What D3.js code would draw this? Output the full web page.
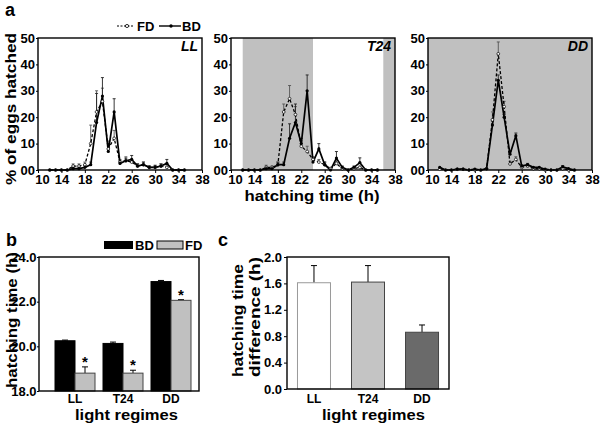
<!DOCTYPE html>
<html><head><meta charset="utf-8">
<script src="https://cdn.jsdelivr.net/npm/d3@7"></script>
<style>
body{margin:0;background:#fff}
svg{display:block}
text{font-family:"Liberation Sans",Arial,Helvetica,sans-serif;font-weight:bold;fill:#000}
</style>
</head><body>
<svg id="fig" width="600" height="425"></svg>
<script>
// ---------- Panel a data ----------
const hours = [12,13,14,15,16,17,18,19,20,21,22,23,24,25,26,27,28,29,30,31,32,33,34,35];
const LL_FD     = [0,0,0,0,1.5,1.5,2,10,22,26,8,12,3,3.5,3,1.5,2,1,1,1.5,1,0,0,0];
const LL_FD_err = [0,0,0,0,0.8,0.8,1,7,8,5,3,3,1,1.5,1,0.8,1,0.5,0.5,0.8,0.5,0,0,0];
const LL_BD     = [0,0,0,0,0.5,0.5,1,2,18,28,7,22,2.5,3.5,4,1.5,2,1,1,1.5,2.5,0,0,0];
const LL_BD_err = [0,0,0,0,0.5,0.5,0.8,1,11,7,3,5,1,1,1.5,0.8,1,0.5,0.8,0.8,1.5,0,0,0];
const T24_FD     = [0,0,0,0,1,1,2,22,27,21,9,7,4,3,2,0.5,2.5,0.5,0,0.5,1,0,0,0];
const T24_FD_err = [0,0,0,0,0.8,0.5,1,3,5,3,2,2,1,1,1,0.5,1,0.5,0,0.5,0.5,0,0,0];
const T24_BD     = [0,0,0,0,0.5,0.5,2,2,12,18,10,30,3,8,2,0,4.5,1,0,1,2.8,0,0,0];
const T24_BD_err = [0,0,0,0,0.5,0.5,1,1,5.5,7,2,6,1,2,1,0,2.5,0.5,0,0.5,1.8,0,0,0];
const DD_FD     = [0.3,0,0,0.3,0.3,0,0,0,0.5,19,44,24,2.3,4,1,1.5,0.5,0.5,0,0,0,0.5,0,0];
const DD_FD_err = [0,0,0,0,0,0,0,0,0.3,3,4.5,2,1,1,0.5,0.5,0.3,0.3,0,0,0,0.3,0,0];
const DD_BD     = [1,0,0,0.3,0.3,0,0.3,0,0.5,17,34,20,6,13,1.5,2,1,1,0.3,0,0,1.2,0.5,0];
const DD_BD_err = [0.3,0,0,0,0,0,0,0,0.3,1.5,2,1,1,1,0.5,0.5,0.3,0.3,0,0,0,0.5,0,0];
const LL_dark  = [];
const T24_dark = [[12,24],[36,38]];
const DD_dark  = [[10,38]];
const xTicksA = [10,14,18,22,26,30,34,38];
const yTicksA = [0,10,20,30,40,50];

// ---------- Panel b data ----------
const regimes = ["LL","T24","DD"];
const BD_time     = [20.25,20.13,22.9];
const BD_time_err = [0.03,0.06,0.05];
const FD_time     = [18.8,18.8,22.06];
const FD_time_err = [0.28,0.13,0.03];
const yTicksB = [18,20,22,24];

// ---------- Panel c data ----------
const diffTime     = [1.61,1.62,0.86];
const diffTime_err = [0.26,0.25,0.11];
const diffColors   = ["#ffffff","#c4c4c4","#6a6a6a"];
const yTicksC = [0,0.4,0.8,1.2,1.6,2.0];

const svg = d3.select("#fig");
const GRAY = "#c0c0c0";

function label(x, y, txt, size, len, rot, anchor) {
  const t = svg.append("text")
    .attr("transform", `translate(${x},${y})` + (rot ? " rotate(-90)" : ""))
    .attr("text-anchor", anchor || "middle")
    .style("font-size", size + "px").text(txt);
  if (len) t.attr("textLength", len).attr("lengthAdjust", "spacingAndGlyphs");
  return t;
}

// ================= Panel a =================
const panelsA = [
  {name:"LL",  fd:LL_FD,  fdE:LL_FD_err,  bd:LL_BD,  bdE:LL_BD_err,  dark:LL_dark,  left:38},
  {name:"T24", fd:T24_FD, fdE:T24_FD_err, bd:T24_BD, bdE:T24_BD_err, dark:T24_dark, left:231},
  {name:"DD",  fd:DD_FD,  fdE:DD_FD_err,  bd:DD_BD,  bdE:DD_BD_err,  dark:DD_dark,  left:428}
];
const aTop = 38, aBottom = 170, aW = 164;
const yA = d3.scaleLinear().domain([0,50]).range([aBottom,aTop]);

panelsA.forEach(p => {
  const x = d3.scaleLinear().domain([10,38]).range([p.left, p.left+aW]);
  const g = svg.append("g");
  g.selectAll("rect.dark").data(p.dark).enter().append("rect")
    .attr("x", d => x(d[0])).attr("y", aTop)
    .attr("width", d => x(d[1]) - x(d[0])).attr("height", aBottom - aTop)
    .attr("fill", GRAY);
  const ax = g.append("g").attr("transform", `translate(0,${aBottom})`)
    .call(d3.axisBottom(x).tickValues(xTicksA).tickSize(3).tickPadding(1));
  const ay = g.append("g").attr("transform", `translate(${p.left},0)`)
    .call(d3.axisLeft(yA).tickValues(yTicksA).tickSize(2).tickPadding(1)
      .tickFormat(d => d === 0 ? "00" : d));
  [ax, ay].forEach(a => {
    a.select(".domain").remove();
    a.selectAll("text").style("font-size","13px").style("font-weight","bold");
    a.selectAll("line").attr("stroke","#000");
  });
  ax.selectAll("text").attr("dy","0.75em").attr("dx", d => d === 10 ? 4 : 0);
  g.append("rect").attr("x", p.left).attr("y", aTop).attr("width", aW).attr("height", aBottom - aTop)
    .attr("fill","none").attr("stroke","#000").attr("stroke-width",1.4);
  const fdPts = hours.map((h,i) => ({h, v:p.fd[i], e:p.fdE[i]}));
  const bdPts = hours.map((h,i) => ({h, v:p.bd[i], e:p.bdE[i]}));
  const line = d3.line().x(d => x(d.h)).y(d => yA(d.v));
  const errs = (pts, col) => {
    const eg = g.append("g").attr("stroke", col).attr("stroke-width", 0.9);
    pts.filter(d => d.e > 0.4).forEach(d => {
      eg.append("line").attr("x1", x(d.h)).attr("x2", x(d.h)).attr("y1", yA(d.v)).attr("y2", yA(d.v + d.e));
      eg.append("line").attr("x1", x(d.h)-1.5).attr("x2", x(d.h)+1.5).attr("y1", yA(d.v + d.e)).attr("y2", yA(d.v + d.e));
    });
  };
  errs(fdPts, "#555");
  errs(bdPts, "#222");
  g.append("path").datum(fdPts).attr("d", line).attr("fill","none")
    .attr("stroke","#000").attr("stroke-width",1.3).attr("stroke-dasharray","3,2");
  g.append("path").datum(bdPts).attr("d", line).attr("fill","none")
    .attr("stroke","#000").attr("stroke-width",1.7);
  g.selectAll("circle.fd").data(fdPts).enter().append("circle")
    .attr("cx", d => x(d.h)).attr("cy", d => yA(d.v)).attr("r", 1.4)
    .attr("fill","#fff").attr("stroke","#000").attr("stroke-width",0.7);
  g.selectAll("circle.bd").data(bdPts).enter().append("circle")
    .attr("cx", d => x(d.h)).attr("cy", d => yA(d.v)).attr("r", 1.6).attr("fill","#000");
  g.append("text").attr("x", p.left + aW - 4).attr("y", aTop + 13).attr("text-anchor","end")
    .style("font-size","14px").style("font-style","italic").text(p.name);
});

label(5, 16, "a", 18, null, false, "start");
label(16, 109, "% of eggs hatched", 15.5, 152, true);
label(312, 201, "hatching time (h)", 15.5, 135, false);
// legend a
const lg = svg.append("g");
lg.append("line").attr("x1",117).attr("x2",134).attr("y1",26).attr("y2",26)
  .attr("stroke","#000").attr("stroke-width",1.2).attr("stroke-dasharray","2,1.5");
lg.append("circle").attr("cx",127).attr("cy",26).attr("r",1.6).attr("fill","#fff").attr("stroke","#000").attr("stroke-width",0.8);
lg.append("text").attr("x",137).attr("y",30.5).style("font-size","13px").text("FD");
lg.append("line").attr("x1",159).attr("x2",181).attr("y1",26).attr("y2",26)
  .attr("stroke","#000").attr("stroke-width",1.4);
lg.append("circle").attr("cx",171).attr("cy",26).attr("r",1.7).attr("fill","#000");
lg.append("text").attr("x",182).attr("y",30.5).style("font-size","13px").text("BD");

// ================= Panel b =================
const bL = 39, bR = 199, bT = 257, bB = 391;
const xB = d3.scaleBand().domain(regimes).range([bL,bR]).paddingInner(1/6).paddingOuter(0.25).align(2/3);
const xB2 = d3.scaleBand().domain(["BD","FD"]).range([0, xB.bandwidth()]);
const yB = d3.scaleLinear().domain([18,24]).range([bB,bT]);
const gb = svg.append("g");
const bData = regimes.map((r,i) => ({r,
  items:[{s:"BD", v:BD_time[i], e:BD_time_err[i]}, {s:"FD", v:FD_time[i], e:FD_time_err[i]}]}));
bData.forEach(d => {
  d.items.forEach(it => {
    const x0 = xB(d.r) + xB2(it.s), w = xB2.bandwidth();
    gb.append("line").attr("x1", x0 + w/2).attr("x2", x0 + w/2).attr("y1", yB(it.v)).attr("y2", yB(it.v + it.e))
      .attr("stroke","#000").attr("stroke-width",1);
    gb.append("line").attr("x1", x0 + w/2 - 3).attr("x2", x0 + w/2 + 3).attr("y1", yB(it.v + it.e)).attr("y2", yB(it.v + it.e))
      .attr("stroke","#000").attr("stroke-width",1);
    gb.append("rect").attr("x", x0).attr("y", yB(it.v)).attr("width", w).attr("height", yB(18) - yB(it.v))
      .attr("fill", it.s === "BD" ? "#000" : GRAY).attr("stroke", it.s === "BD" ? "#000" : "#444").attr("stroke-width",1);
    if (it.s === "FD") {
      gb.append("text").attr("x", x0 + w/2).attr("y", yB(it.v + it.e)).attr("text-anchor","middle")
        .style("font-size","15px").text("*");
    }
  });
});
const axB = gb.append("g").attr("transform",`translate(${bL},0)`)
  .call(d3.axisLeft(yB).tickValues(yTicksB).tickSize(2).tickPadding(0.5));
const axBx = gb.append("g").attr("transform",`translate(0,${bB})`)
  .call(d3.axisBottom(xB).tickSize(0).tickPadding(3.5));
[axB, axBx].forEach(a => { a.select(".domain").remove(); a.selectAll("text").style("font-size","13px"); });
axBx.selectAll("text").style("font-size","12px").attr("dy","0.72em");
gb.append("rect").attr("x",bL).attr("y",bT).attr("width",bR-bL).attr("height",bB-bT)
  .attr("fill","none").attr("stroke","#000").attr("stroke-width",1.4);
label(6, 246, "b", 18, null, false, "start");
label(17, 320, "hatching time (h)", 15.5, 136, true);
label(126.5, 420, "light regimes", 15, 103, false);
// legend b
svg.append("rect").attr("x",104).attr("y",241).attr("width",29).attr("height",8).attr("fill","#000");
svg.append("text").attr("x",135).attr("y",249.5).style("font-size","13px").text("BD");
svg.append("rect").attr("x",157).attr("y",241).attr("width",26).attr("height",8).attr("fill",GRAY)
  .attr("stroke","#000").attr("stroke-width",1);
svg.append("text").attr("x",185).attr("y",249.5).style("font-size","13px").text("FD");

// ================= Panel c =================
const cL = 287, cR = 449, cT = 257, cB = 389;
const xC = d3.scaleBand().domain(regimes).range([cL,cR]).paddingInner(0.389).paddingOuter(0.194);
const yC = d3.scaleLinear().domain([0,2]).range([cB,cT]);
const gc = svg.append("g");
regimes.forEach((r,i) => {
  const x0 = xC(r), w = xC.bandwidth();
  gc.append("line").attr("x1", x0 + w/2).attr("x2", x0 + w/2).attr("y1", yC(diffTime[i])).attr("y2", yC(diffTime[i] + diffTime_err[i]))
    .attr("stroke","#000").attr("stroke-width",1);
  gc.append("line").attr("x1", x0 + w/2 - 3).attr("x2", x0 + w/2 + 3)
    .attr("y1", yC(diffTime[i] + diffTime_err[i])).attr("y2", yC(diffTime[i] + diffTime_err[i]))
    .attr("stroke","#000").attr("stroke-width",1);
  gc.append("rect").attr("x", x0).attr("y", yC(diffTime[i])).attr("width", w).attr("height", yC(0) - yC(diffTime[i]))
    .attr("fill", diffColors[i]).attr("stroke", i === 0 ? "#999" : "#444").attr("stroke-width",1);
});
const axC = gc.append("g").attr("transform",`translate(${cL},0)`)
  .call(d3.axisLeft(yC).tickValues(yTicksC).tickSize(3).tickPadding(2).tickFormat(d3.format(".1f")));
const axCx = gc.append("g").attr("transform",`translate(0,${cB})`)
  .call(d3.axisBottom(xC).tickSize(0).tickPadding(5.5));
[axC, axCx].forEach(a => { a.select(".domain").remove(); a.selectAll("text").style("font-size","13px"); });
axCx.selectAll("text").style("font-size","12px").attr("dy","0.72em");
gc.append("rect").attr("x",cL).attr("y",cT).attr("width",cR-cL).attr("height",cB-cT)
  .attr("fill","none").attr("stroke","#000").attr("stroke-width",1.4);
label(218, 246, "c", 18, null, false, "start");
label(243, 377, "hatching time", 15.5, 113, true, "start");
label(260, 377, "difference (h)", 15.5, 120, true, "start");
label(373.5, 420, "light regimes", 15, 103, false);
</script>
</body></html>
